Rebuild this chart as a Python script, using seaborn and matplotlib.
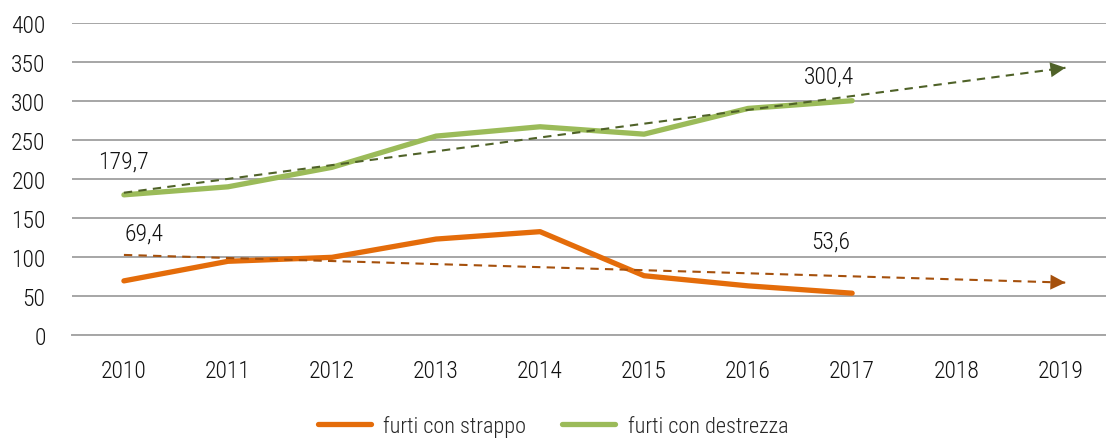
import numpy as np
import pandas as pd
import matplotlib
matplotlib.use('Agg')
import matplotlib.pyplot as plt
import seaborn as sns

# dati
anni = [2010, 2011, 2012, 2013, 2014, 2015, 2016, 2017]
anni_asse = list(range(2010, 2020))
strappo = [69.4, 94.5, 99.6, 123.0, 132.5, 76.0, 63.0, 53.6]
destrezza = [179.7, 190.0, 215.0, 255.0, 267.0, 257.5, 290.5, 300.4]
serie = ['furti con strappo', 'furti con destrezza']

df = pd.DataFrame({
    'anno': anni * 2,
    'valore': strappo + destrezza,
    'tipo': [serie[0]] * len(anni) + [serie[1]] * len(anni),
})

col_linea = {serie[0]: '#E46C0A', serie[1]: '#9BBB59'}
col_trend = {serie[0]: '#A5500C', serie[1]: '#4F6228'}

sns.set_theme(style='white')
plt.rcParams['font.family'] = ['Roboto Condensed', 'Liberation Sans Narrow', 'DejaVu Sans']
plt.rcParams['font.weight'] = 'light'

fig = plt.figure(figsize=(11.06, 4.39), dpi=100)
ax = fig.add_axes([0.065, 0.2346, 0.935, 0.7107])

# linee di tendenza (lineari, fino al 2019)
for nome, vals in [(serie[0], strappo), (serie[1], destrezza)]:
    coef = np.polyfit(anni, vals, 1)
    xs = np.array([anni_asse[0], anni_asse[-1] + 0.05])
    ys = np.polyval(coef, xs)
    ax.plot(xs, ys, ls=(0, (4, 3)), lw=1.5, color=col_trend[nome], zorder=4)
    xe = anni_asse[-1] + 0.05
    xb = xe - 0.25
    ax.annotate('', xy=(xe, np.polyval(coef, xe)), xytext=(xb, np.polyval(coef, xb)),
                arrowprops=dict(arrowstyle='-|>,head_length=0.9,head_width=0.45',
                                color=col_trend[nome], lw=0, shrinkA=0, shrinkB=0),
                zorder=5)

sns.lineplot(data=df, x='anno', y='valore', hue='tipo', palette=col_linea,
             linewidth=3.8, ax=ax, legend=False, zorder=3,
             solid_capstyle='round')

# etichette dati
etichette = [
    (anni[0], destrezza[0], (0, 34)),
    (anni[0], strappo[0], (20, 48)),
    (anni[-1], destrezza[-1], (-23, 25)),
    (anni[-1], strappo[-1], (-21, 52)),
]
for x, y, off in etichette:
    ax.annotate(f'{y:.1f}'.replace('.', ','), xy=(x, y), xytext=off,
                textcoords='offset pixels', ha='center', va='center',
                fontsize=17, color='#111111')

ax.set_xlim(2009.5, 2019.44)
ax.set_ylim(0, 400)
ax.set_yticks(range(0, 401, 50))
ax.set_xticks(anni_asse)
ax.set_xticklabels([str(a) for a in anni_asse])
ax.yaxis.grid(True, color='#A6A6A6', lw=1.4)
ax.xaxis.grid(False)
for s in ['top', 'right', 'left']:
    ax.spines[s].set_visible(False)
ax.spines['bottom'].set_color('#A6A6A6')
ax.spines['bottom'].set_linewidth(1.4)
ax.tick_params(axis='y', length=0, pad=19, labelsize=17, labelcolor='#111111')
ax.tick_params(axis='x', length=0, pad=17, labelsize=17, labelcolor='#111111')
ax.set_xlabel('')
ax.set_ylabel('')

handles = [plt.Line2D([], [], color=col_linea[s], lw=3.8, solid_capstyle='round') for s in serie]
fig.legend(handles, serie, loc='center', bbox_to_anchor=(0.5, 0.028), ncol=2,
           frameon=False, fontsize=16, handlelength=2.4, columnspacing=1.6,
           handletextpad=0.55)

fig.savefig('out.png', dpi=100)
